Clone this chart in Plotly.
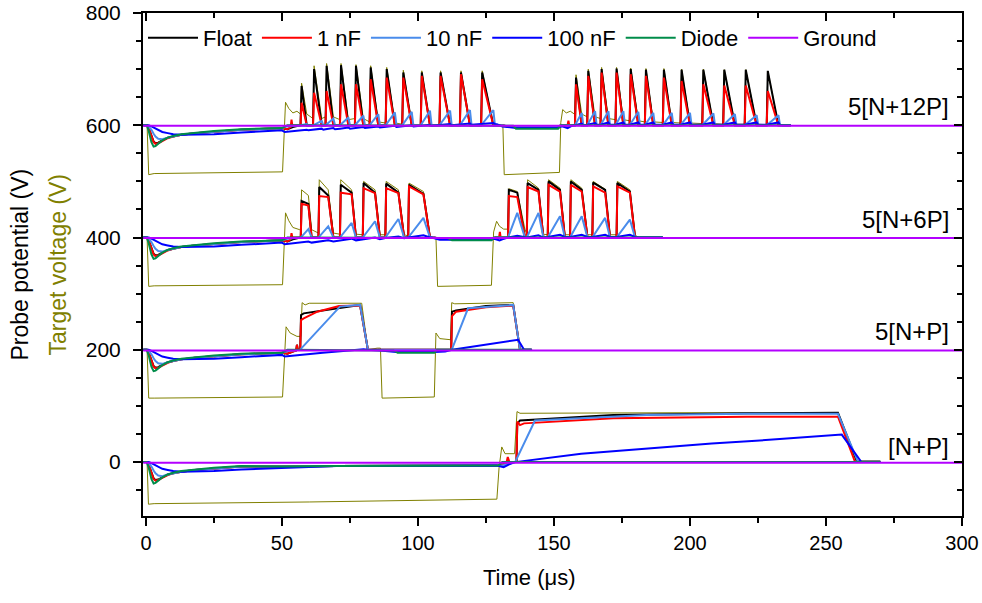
import plotly.graph_objects as go

# ---------------- labels / axes ----------------
SERIES = ["Float", "1 nF", "10 nF", "100 nF", "Diode", "Ground"]
GROUP_LABELS = ["[N+P]", "5[N+P]", "5[N+6P]", "5[N+12P]"]
GROUP_BASE = [0, 200, 400, 600]
X_TICKS = [0, 50, 100, 150, 200, 250, 300]
Y_TICKS = [0, 200, 400, 600, 800]

# ---------------- common initial dip (t in us, V relative to group baseline) ----------------
DIP_T     = [-1, 0.3, 1.0, 2.0, 2.8, 3.5, 4.5, 6, 8, 10, 13, 18, 25, 35]
DIP_FLOAT = [0, 0, -5, -19, -29, -32, -31, -27, -22, -20, -17, -14, -11, -8]
DIP_1NF   = [0, 0, -5, -20, -30, -33, -32, -28, -23, -20, -17, -14, -11, -8]
DIP_10NF  = [0, 0, -2, -8, -15, -20, -24, -25, -22, -20, -17, -14, -11, -8]
DIP_100NF = [0, 0, 0, -2, -4, -6, -9, -12, -14, -16, -17, -17, -16, -13]
DIP_DIODE = [0, 0, -10, -30, -38, -37, -33, -27, -22, -19, -16, -13, -10, -7]

GROUND_T = [-1, 40, 80, 130, 180, 230, 300]
GROUND_V = [-1, -1, 0, -1, -1, 0, -1]

# ---------------- group 1 : [N+P] ----------------
G1_FLOAT_T = [50, 70, 129, 130.5, 131.5, 133, 136.2, 136.5, 137.5, 143.6, 171.8, 221, 254.4, 261.4, 270]
G1_FLOAT_V = [-8, -7, -6, -6, -3, 0, 0, 69, 74, 76, 84, 87, 88, 1, 1]
G1_1NF_T = [50, 70, 129, 130.5, 132.5, 133, 133.6, 136.2, 136.5, 137.5, 139, 171.8, 221, 254.4, 260.7, 270]
G1_1NF_V = [-8, -7, -6, -6, -2, 9, 0, 0, 72, 66, 69, 78, 81, 81, 0, 0]
G1_10NF_T = [50, 70, 129, 131, 135.7, 143.0, 159.6, 184, 221, 254.4, 261.8, 270]
G1_10NF_V = [-8, -7, -6, -6, 0, 74, 78, 84, 86, 86, 0, 0]
G1_100NF_T = [50, 70, 129, 131.5, 133.5, 135.7, 160, 184, 208, 233, 255.8, 263, 270]
G1_100NF_V = [-11, -7, -6, -9, -4, 0, 15, 24, 33, 41, 49, 0, 0]
G1_DIODE_T = [50, 70, 129.5, 131, 270]
G1_DIODE_V = [-8, -7, -6, 0, 0]
G1_TGT_T = [-1, 0.4, 0.9, 3, 60, 129, 129.8, 130.8, 132, 135.5, 136.4, 137.5, 200, 254.4, 261.3, 270]
G1_TGT_V = [0, 0, -75, -74, -71, -66, -10, 27, 15, 15, 90, 87, 88, 87, 0, 0]

# ---------------- group 2 : 5[N+P] ----------------
G2_FLOAT_T = [50, 50.6, 52, 54, 55.2, 55.5, 55.8, 56.7, 57.0, 58, 65, 78.7, 81.6, 86, 112.2, 112.5, 114, 125, 135, 137.5, 141.8]
G2_FLOAT_V = [-5, -6, -7, -3, -1, 9, 0, 0, 62, 65, 70, 80, 0, 0, 0, 68, 70, 78, 80, 0, 0]
G2_1NF_T = [50, 50.6, 52, 54, 55.2, 55.5, 55.8, 56.7, 57.0, 58, 63, 71, 78.7, 81.6, 86, 112.2, 112.5, 114, 125, 135, 137.5, 141.8]
G2_1NF_V = [-5, -6, -7, -3, -1, 9, 0, 0, 53, 56, 68, 78, 79, 0, 0, 0, 60, 68, 76, 79, 0, 0]
G2_10NF_T = [50, 52, 56.6, 71.3, 78.7, 81.6, 112.4, 118.4, 135, 137.5, 141.8]
G2_10NF_V = [-5, -2, 0, 77, 80, 0, 0, 74, 80, 0, 0]
G2_100NF_T = [50, 51, 53, 56, 65, 80, 81.5, 86, 92, 106, 110, 112.5, 136.8, 139, 141.8]
G2_100NF_V = [-9, -12, -11, -9, -5, 1, 0, -1, -4, -4, -3, 0, 18, 0, 0]
G2_DIODE_T = [50, 52, 86, 91, 92.5, 106, 107, 141.8]
G2_DIODE_V = [-5, 0, 0, -1, -5, -5, 0, 0]
G2_TGT_T = [-1, 0.4, 1.0, 3, 50.2, 51.5, 53, 55.5, 56.9, 57.4, 58.5, 60, 79.3, 81.6, 85, 86.2,
            86.8, 106, 106.6, 108, 112, 112.4, 113.5, 135, 137.5, 142]
G2_TGT_V = [0, 0, -86, -86, -84, 41, 30, 24, 24, 84, 80, 83, 83, 0, 3, 3,
            -86, -84, 30, 20, 18, 84, 82, 84, 0, 0]

# ---------------- group 3 : 5[N+6P] ----------------
G3_B1_RISE = [56.9, 63.4, 71.3, 79.7, 88.0, 96.4]
G3_B1_FALL = [59.7, 67.0, 75.6, 84.2, 92.8, 102.0]
G3_B1_END = [60.9, 68.9, 77.2, 86.0, 94.9, 104.4]
G3_B1_FLOAT_TOP = [65, 90, 94, 97, 96, 94]
G3_B1_FLOAT_SAG = [60, 75, 80, 80, 80, 78]
G3_B1_1NF_TOP = [60, 74, 80, 88, 88, 91]
G3_B1_1NF_SAG = [57, 72, 77, 79, 79, 77]
G3_B1_10NF = [15, 20, 26, 29, 33, 35]
G3_B1_100NF_BASE = [-9, -7, -5, -3, -1, 0]
G3_B1_100NF_PEAK = [-7, -5, -2, 0, 2, 4]
G3_B1_TGT_TOP = [85, 103, 103, 100, 100, 97]
G3_B1_TGT_SAG = [75, 85, 85, 85, 85, 82]
G3_B1_TGT_BASE = [14, 8, 6, 5, 5, 3]

G3_B2_RISE = [133.1, 140.0, 147.7, 155.9, 164.1, 173.0]
G3_B2_FALL = [136.5, 144.3, 152.2, 160.2, 168.8, 177.9]
G3_B2_END = [139.3, 146.1, 154.0, 162.3, 170.6, 179.8]
G3_B2_FLOAT_TOP = [85, 97, 100, 100, 98, 97]
G3_B2_FLOAT_SAG = [80, 85, 85, 85, 85, 82]
G3_B2_1NF_TOP = [74, 90, 94, 94, 91, 91]
G3_B2_1NF_SAG = [72, 82, 82, 82, 80, 80]
G3_B2_10NF = [44, 44, 38, 38, 35, 32]
G3_B2_100NF_BASE = [0, 0, 1, 1, 1, 1]
G3_B2_100NF_PEAK = [3, 4, 5, 5, 5, 5]
G3_B2_TGT_TOP = [87, 103, 103, 103, 100, 100]
G3_B2_TGT_SAG = [82, 88, 88, 88, 86, 85]
G3_B2_TGT_BASE = [15, 6, 5, 5, 5, 5]

G3_FLOAT_PRE_T = [50, 50.6, 52, 54, 56.5]
G3_FLOAT_PRE_V = [-5, -6, -7, -3, 0]
G3_FLOAT_MID_T = [106, 108, 127, 128.5, 132.5]
G3_FLOAT_MID_V = [0, -2, -2, 0, 0]
G3_1NF_PRE_T = [50, 50.6, 52, 53.2, 53.5, 53.8, 56.5]
G3_1NF_PRE_V = [-5, -6, -7, -3, 8, 0, 0]
G3_1NF_MID_T = [106, 108, 127, 128.5, 129.8, 130.1, 130.4, 132.5]
G3_1NF_MID_V = [0, -2, -2, 0, 0, 10, 0, 0]
G3_10NF_PRE_T = [50, 52, 56.5]
G3_10NF_PRE_V = [-5, -2, 0]
G3_10NF_MID_T = [106, 108, 127, 128.5, 132.8]
G3_10NF_MID_V = [0, -2, -2, 0, 0]
G3_100NF_PRE_T = [50, 51, 53, 56]
G3_100NF_PRE_V = [-9, -12, -11, -9]
G3_100NF_MID_T = [105, 108, 127, 128, 130, 131, 132.8]
G3_100NF_MID_V = [0, -4, -4, -2, -5, -3, 0]
G3_DIODE_T = [50, 52, 107, 111, 112.5, 127, 128, 190]
G3_DIODE_V = [-5, 0, 0, -1, -5, -5, 0, 0]
G3_TGT_PRE_T = [-1, 0.4, 1.0, 3, 50.2, 51.3, 52.5, 54, 56.5]
G3_TGT_PRE_V = [0, 0, -87, -86, -84, 44, 30, 18, 14]
G3_TGT_MID_T = [104.4, 106.6, 107.2, 127, 127.8, 128.9, 130, 131.5, 132.8]
G3_TGT_MID_V = [0, 0, -87, -85, 10, 29, 20, 15, 15]
G3_POST_T = [181, 190]
G3_POST_V = [0, 0]

# ---------------- group 4 : 5[N+12P] ----------------
G4_B1_PEAK_T = [57.2, 61.8, 66.4, 71.7, 77.2, 82.6, 88.5, 94.6, 101.4, 108.3, 115.8, 123.6]
G4_B1_END = [59.1, 64.6, 68.9, 74.4, 79.9, 85.4, 91.5, 97.7, 104.4, 111.8, 119.1, 127.7]
G4_B1_FLOAT = [70, 100, 106, 107, 106, 103, 100, 94, 94, 94, 94, 94]
G4_B1_1NF = [40, 58, 61, 73, 73, 82, 85, 85, 88, 88, 91, 82]
G4_B1_10NF = [2, 8, 12, 14, 17, 20, 23, 24, 26, 26, 27, 27]
G4_B1_100NF_BASE = [-9, -8, -7, -6, -5, -4, -3, -2, -1, 0, 1, 2]
G4_B1_100NF_PEAK = [-8, -6, -5, -4, -3, -2, -1, 0, 1, 2, 3, 4]
G4_B1_TGT = [75, 106, 110, 110, 108, 106, 103, 98, 97, 97, 97, 97]
G4_B1_TGT_BASE = [20, 12, 15, 10, 12, 6, 4, 2, 0, 0, 0, 0]

G4_B2_PEAK_T = [158.1, 162.6, 167.5, 173.0, 178.2, 183.8, 190.4, 196.9, 204.9, 212.6, 220.5, 228.6]
G4_B2_END = [160.2, 165.1, 170.0, 175.5, 181.0, 186.5, 193.3, 200.0, 208.6, 216.5, 224.5, 232.5]
G4_B2_FLOAT = [85, 97, 100, 101, 100, 99, 99, 99, 99, 99, 99, 97]
G4_B2_1NF = [73, 88, 94, 94, 91, 88, 85, 79, 73, 71, 71, 61]
G4_B2_10NF = [22, 25, 25, 25, 24, 22, 22, 22, 21, 20, 18, 18]
G4_B2_100NF_BASE = [0, 1, 1, 1, 1, 1, 1, 1, 1, 1, 1, 1]
G4_B2_100NF_PEAK = [3, 4, 5, 5, 5, 5, 5, 5, 5, 5, 5, 5]
G4_B2_TGT = [90, 100, 103, 103, 102, 101, 101, 100, 100, 99, 99, 96]
G4_B2_TGT_BASE = [20, 15, 12, 10, 8, 6, 5, 4, 3, 2, 2, 1]

G4_FLOAT_PRE_T = [50, 50.6, 52, 54, 56.5]
G4_FLOAT_PRE_V = [-5, -6, -7, -3, 0]
G4_FLOAT_MID_T = [128.5, 131, 133, 151, 153, 157.5]
G4_FLOAT_MID_V = [0, 0, -2, -2, 0, 0]
G4_1NF_PRE_T = [50, 50.6, 52, 53.2, 53.5, 53.8, 56.5]
G4_1NF_PRE_V = [-5, -6, -7, -3, 10, 0, 0]
G4_1NF_MID_T = [128.5, 131, 133, 151, 153, 155, 155.3, 155.6, 157.5]
G4_1NF_MID_V = [0, 0, -2, -2, 0, 0, 8, 0, 0]
G4_10NF_PRE_T = [50, 52, 56.5]
G4_10NF_PRE_V = [-5, -2, 0]
G4_10NF_MID_T = [129, 131, 133, 151, 153, 157.5]
G4_10NF_MID_V = [0, 0, -2, -2, 0, 0]
G4_100NF_PRE_T = [50, 51, 53, 56.5]
G4_100NF_PRE_V = [-9, -12, -11, -10]
G4_100NF_MID_T = [129, 131, 136, 151, 153, 155, 156.5, 157.5]
G4_100NF_MID_V = [2, -2, -5, -5, -2, -5, -1, 0]
G4_DIODE_T = [50, 52, 131, 135, 136, 151.5, 152.5, 237]
G4_DIODE_V = [-5, 0, 0, -1, -6, -6, 0, 0]
G4_TGT_PRE_T = [-1, 0.4, 1.0, 3, 50.2, 51.3, 52.5, 54, 55.5, 56.5]
G4_TGT_PRE_V = [0, 0, -88, -86, -83, 41, 30, 22, 25, 20]
G4_TGT_MID_T = [127.7, 131.2, 131.7, 152, 152.5, 153.2, 154.5, 156, 157.5]
G4_TGT_MID_V = [0, 0, -88, -84, 5, 28, 22, 25, 20]
G4_POST_T = [234, 237]
G4_POST_V = [0, 0]

COLORS = {"Float": "#000000", "1 nF": "#FF0000", "10 nF": "#4A8CEB",
          "100 nF": "#0000FF", "Diode": "#008C4A", "Ground": "#B300FF"}
TARGET_COLOR = "#808000"


# ---------------- helpers to assemble polylines from read values ----------------
def cat(*pieces):
    ts, vs = [], []
    for t, v in pieces:
        ts += list(t)
        vs += list(v)
    return ts, vs


def spikes(peak_t, end_t, top, base=None, rise=0.4):
    ts, vs = [], []
    for i, (p, e, h) in enumerate(zip(peak_t, end_t, top)):
        b = base[i] if base else 0
        ts += [p - rise, p, e]
        vs += [b, h, b]
    return ts, vs


def plateaus(rise_t, fall_t, end_t, top, sag, base=None):
    ts, vs = [], []
    for i, (r, f, e, h, s) in enumerate(zip(rise_t, fall_t, end_t, top, sag)):
        b = base[i] if base else 0
        ts += [r, r + 0.3, f, e]
        vs += [b, h, s, b]
    return ts, vs


def ramps(on_t, peak_t, back_t, peak, base=None):
    ts, vs = [], []
    for i, (o, p, k, h) in enumerate(zip(on_t, peak_t, back_t, peak)):
        b = base[i] if base else 0
        ts += [o, p, k]
        vs += [b, h, b]
    return ts, vs


DIP = {"Float": (DIP_T, DIP_FLOAT), "1 nF": (DIP_T, DIP_1NF), "10 nF": (DIP_T, DIP_10NF),
       "100 nF": (DIP_T, DIP_100NF), "Diode": (DIP_T, DIP_DIODE)}

groups = []
groups.append({
    "Float": cat(DIP["Float"], (G1_FLOAT_T, G1_FLOAT_V)),
    "1 nF": cat(DIP["1 nF"], (G1_1NF_T, G1_1NF_V)),
    "10 nF": cat(DIP["10 nF"], (G1_10NF_T, G1_10NF_V)),
    "100 nF": cat(DIP["100 nF"], (G1_100NF_T, G1_100NF_V)),
    "Diode": cat(DIP["Diode"], (G1_DIODE_T, G1_DIODE_V)),
    "Ground": (GROUND_T, GROUND_V),
    "target": (G1_TGT_T, G1_TGT_V),
})
groups.append({
    "Float": cat(DIP["Float"], (G2_FLOAT_T, G2_FLOAT_V)),
    "1 nF": cat(DIP["1 nF"], (G2_1NF_T, G2_1NF_V)),
    "10 nF": cat(DIP["10 nF"], (G2_10NF_T, G2_10NF_V)),
    "100 nF": cat(DIP["100 nF"], (G2_100NF_T, G2_100NF_V)),
    "Diode": cat(DIP["Diode"], (G2_DIODE_T, G2_DIODE_V)),
    "Ground": (GROUND_T, GROUND_V),
    "target": (G2_TGT_T, G2_TGT_V),
})
groups.append({
    "Float": cat(DIP["Float"], (G3_FLOAT_PRE_T, G3_FLOAT_PRE_V),
                 plateaus(G3_B1_RISE, G3_B1_FALL, G3_B1_END, G3_B1_FLOAT_TOP, G3_B1_FLOAT_SAG),
                 (G3_FLOAT_MID_T, G3_FLOAT_MID_V),
                 plateaus(G3_B2_RISE, G3_B2_FALL, G3_B2_END, G3_B2_FLOAT_TOP, G3_B2_FLOAT_SAG),
                 (G3_POST_T, G3_POST_V)),
    "1 nF": cat(DIP["1 nF"], (G3_1NF_PRE_T, G3_1NF_PRE_V),
                plateaus(G3_B1_RISE, G3_B1_FALL, G3_B1_END, G3_B1_1NF_TOP, G3_B1_1NF_SAG),
                (G3_1NF_MID_T, G3_1NF_MID_V),
                plateaus(G3_B2_RISE, G3_B2_FALL, G3_B2_END, G3_B2_1NF_TOP, G3_B2_1NF_SAG),
                (G3_POST_T, G3_POST_V)),
    "10 nF": cat(DIP["10 nF"], (G3_10NF_PRE_T, G3_10NF_PRE_V),
                 ramps(G3_B1_RISE, G3_B1_FALL, G3_B1_END, G3_B1_10NF),
                 (G3_10NF_MID_T, G3_10NF_MID_V),
                 ramps(G3_B2_RISE, G3_B2_FALL, G3_B2_END, G3_B2_10NF),
                 (G3_POST_T, G3_POST_V)),
    "100 nF": cat(DIP["100 nF"], (G3_100NF_PRE_T, G3_100NF_PRE_V),
                  ramps(G3_B1_RISE, G3_B1_FALL, G3_B1_END, G3_B1_100NF_PEAK, G3_B1_100NF_BASE),
                  (G3_100NF_MID_T, G3_100NF_MID_V),
                  ramps(G3_B2_RISE, G3_B2_FALL, G3_B2_END, G3_B2_100NF_PEAK, G3_B2_100NF_BASE),
                  (G3_POST_T, G3_POST_V)),
    "Diode": cat(DIP["Diode"], (G3_DIODE_T, G3_DIODE_V)),
    "Ground": (GROUND_T, GROUND_V),
    "target": cat((G3_TGT_PRE_T, G3_TGT_PRE_V),
                  plateaus(G3_B1_RISE, G3_B1_FALL, G3_B1_END, G3_B1_TGT_TOP, G3_B1_TGT_SAG, G3_B1_TGT_BASE),
                  (G3_TGT_MID_T, G3_TGT_MID_V),
                  plateaus(G3_B2_RISE, G3_B2_FALL, G3_B2_END, G3_B2_TGT_TOP, G3_B2_TGT_SAG, G3_B2_TGT_BASE),
                  (G3_POST_T, G3_POST_V)),
})
g4_on1 = [p - 0.4 for p in G4_B1_PEAK_T]
g4_on2 = [p - 0.4 for p in G4_B2_PEAK_T]
g4_back1 = [e + 0.6 for e in G4_B1_END]
g4_back2 = [e + 0.6 for e in G4_B2_END]
groups.append({
    "Float": cat(DIP["Float"], (G4_FLOAT_PRE_T, G4_FLOAT_PRE_V),
                 spikes(G4_B1_PEAK_T, G4_B1_END, G4_B1_FLOAT),
                 (G4_FLOAT_MID_T, G4_FLOAT_MID_V),
                 spikes(G4_B2_PEAK_T, G4_B2_END, G4_B2_FLOAT),
                 (G4_POST_T, G4_POST_V)),
    "1 nF": cat(DIP["1 nF"], (G4_1NF_PRE_T, G4_1NF_PRE_V),
                spikes(G4_B1_PEAK_T, G4_B1_END, G4_B1_1NF),
                (G4_1NF_MID_T, G4_1NF_MID_V),
                spikes(G4_B2_PEAK_T, G4_B2_END, G4_B2_1NF),
                (G4_POST_T, G4_POST_V)),
    "10 nF": cat(DIP["10 nF"], (G4_10NF_PRE_T, G4_10NF_PRE_V),
                 ramps(g4_on1, G4_B1_END, g4_back1, G4_B1_10NF),
                 (G4_10NF_MID_T, G4_10NF_MID_V),
                 ramps(g4_on2, G4_B2_END, g4_back2, G4_B2_10NF),
                 (G4_POST_T, G4_POST_V)),
    "100 nF": cat(DIP["100 nF"], (G4_100NF_PRE_T, G4_100NF_PRE_V),
                  ramps(g4_on1, G4_B1_END, g4_back1, G4_B1_100NF_PEAK, G4_B1_100NF_BASE),
                  (G4_100NF_MID_T, G4_100NF_MID_V),
                  ramps(g4_on2, G4_B2_END, g4_back2, G4_B2_100NF_PEAK, G4_B2_100NF_BASE),
                  (G4_POST_T, G4_POST_V)),
    "Diode": cat(DIP["Diode"], (G4_DIODE_T, G4_DIODE_V)),
    "Ground": (GROUND_T, GROUND_V),
    "target": cat((G4_TGT_PRE_T, G4_TGT_PRE_V),
                  spikes(G4_B1_PEAK_T, G4_B1_END, G4_B1_TGT, G4_B1_TGT_BASE),
                  (G4_TGT_MID_T, G4_TGT_MID_V),
                  spikes(G4_B2_PEAK_T, G4_B2_END, G4_B2_TGT, G4_B2_TGT_BASE),
                  (G4_POST_T, G4_POST_V)),
})

fig = go.Figure()

for gi, g in enumerate(groups):
    t, v = g["target"]
    fig.add_trace(go.Scatter(x=t, y=[val + GROUP_BASE[gi] for val in v], mode="lines",
                             line=dict(color=TARGET_COLOR, width=1), showlegend=False,
                             hoverinfo="skip"))

for si, s in enumerate(SERIES):
    for gi, g in enumerate(groups):
        t, v = g[s]
        fig.add_trace(go.Scatter(x=t, y=[val + GROUP_BASE[gi] for val in v], mode="lines",
                                 name=s, legendgroup=s, showlegend=(gi == 0), legendrank=si + 1,
                                 line=dict(color=COLORS[s], width=2)))

fig.add_trace(go.Scatter(x=[], y=[], xaxis="x2", yaxis="y2", showlegend=False, hoverinfo="skip"))

XR = [-1.1, 300]
YR = [-96, 800]
tickfont_y = dict(family="Liberation Sans, Arial, sans-serif", size=21, color="black")
tickfont_x = dict(family="Liberation Sans, Arial, sans-serif", size=20, color="black")

fig.update_layout(
    width=982, height=603,
    margin=dict(l=143, r=20, t=13, b=87, autoexpand=False),
    plot_bgcolor="white", paper_bgcolor="white",
    font=dict(family="Liberation Sans, Arial, sans-serif", size=19, color="black"),
    showlegend=True,
    legend=dict(orientation="h", x=0.0, xanchor="left", y=0.992, yanchor="top",
                bgcolor="rgba(0,0,0,0)", font=dict(size=22), itemwidth=50,
                tracegroupgap=0, traceorder="normal"),
    xaxis=dict(range=XR, automargin=False, showgrid=False, zeroline=False, showline=True,
               linecolor="black", linewidth=2, ticks="outside", ticklen=8, tickwidth=2,
               tickcolor="black", tickvals=X_TICKS, tickfont=tickfont_x, ticklabeloverflow="allow",
               minor=dict(dtick=25, tick0=0, ticks="outside", ticklen=5, tickwidth=1.5, tickcolor="black")),
    yaxis=dict(range=YR, automargin=False, showgrid=False, zeroline=False, showline=True,
               linecolor="black", linewidth=2, ticks="outside", ticklen=8, tickwidth=2,
               tickcolor="black", tickvals=Y_TICKS, tickfont=tickfont_y, ticklabelstandoff=8,
               ticklabeloverflow="allow",
               minor=dict(dtick=50, tick0=0, ticks="outside", ticklen=5, tickwidth=1.5, tickcolor="black")),
    xaxis2=dict(range=XR, automargin=False, overlaying="x", side="top", anchor="y2", showgrid=False,
                zeroline=False, showline=True, linecolor="black", linewidth=2, ticks="inside",
                ticklen=8, tickwidth=2, tickcolor="black", tickvals=X_TICKS, showticklabels=False,
                minor=dict(dtick=25, tick0=0, ticks="inside", ticklen=5, tickwidth=1.5, tickcolor="black")),
    yaxis2=dict(range=YR, automargin=False, overlaying="y", side="right", anchor="x2", showgrid=False,
                zeroline=False, showline=True, linecolor="black", linewidth=2, ticks="inside",
                ticklen=8, tickwidth=2, tickcolor="black", tickvals=Y_TICKS, showticklabels=False,
                minor=dict(dtick=50, tick0=0, ticks="inside", ticklen=5, tickwidth=1.5, tickcolor="black")),
)

# axis titles
fig.add_annotation(text="Time (μs)", xref="paper", yref="paper", x=0.4725, y=-0.123,
                   showarrow=False, xanchor="center", yanchor="middle",
                   font=dict(size=22, color="black"))
fig.add_annotation(text="Probe potential (V)", xref="paper", yref="paper", x=0, y=0.5,
                   xshift=-124, textangle=-90, showarrow=False,
                   font=dict(size=23, color="black"), xanchor="center", yanchor="middle")
fig.add_annotation(text="Target voltage (V)", xref="paper", yref="paper", x=0, y=0.5,
                   xshift=-86, textangle=-90, showarrow=False,
                   font=dict(size=23, color=TARGET_COLOR), xanchor="center", yanchor="middle")

LABEL_DY = [28, 33, 33, 33]
for gi, lab in enumerate(GROUP_LABELS):
    fig.add_annotation(text=lab, x=296, y=GROUP_BASE[gi] + LABEL_DY[gi], xref="x", yref="y",
                       showarrow=False, xanchor="right", yanchor="middle",
                       font=dict(size=24, color="black"))

fig.write_html("out.html", config={"displayModeBar": False},
               post_script="document.body.style.margin='0px';")
